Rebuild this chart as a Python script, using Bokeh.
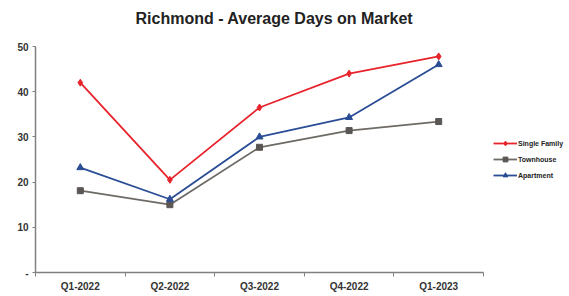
from bokeh.plotting import figure
from bokeh.models import Range1d, FixedTicker, Legend, LegendItem, Title
from bokeh.embed import file_html
from bokeh.resources import INLINE

quarters = ["Q1-2022", "Q2-2022", "Q3-2022", "Q4-2022", "Q1-2023"]
single_family = [42, 20.5, 36.5, 44, 47.8]
townhouse = [18.1, 15, 27.7, 31.4, 33.4]
apartment = [23.2, 16.2, 30, 34.3, 46]
y_ticks = [0, 10, 20, 30, 40, 50]

xs = list(range(len(quarters)))

FONT = "Liberation Sans"

p = figure(frame_width=448, frame_height=226, output_backend="svg", toolbar_location=None,
           x_range=Range1d(-0.5, len(quarters) - 0.5), y_range=Range1d(0, 50),
           min_border_left=35, min_border_right=86, min_border_top=46, min_border_bottom=24)

# spacer panel between the title and the frame
spacer = Title(text=" ", text_font_size="1px", standoff=7)
p.add_layout(spacer, "above")

p.title.text = "Richmond - Average Days on Market"
p.title.align = "left"
p.title.vertical_align = "top"
p.title.offset = 100
p.title.standoff = 16
p.title.text_font = FONT
p.title.text_font_size = "16px"
p.title.text_font_style = "bold"
p.title.text_color = "#222222"

p.outline_line_color = None
p.xgrid.visible = False
p.ygrid.visible = False

p.xaxis.ticker = FixedTicker(ticks=xs, minor_ticks=[i - 0.5 for i in range(len(quarters) + 1)])
p.xaxis.major_label_overrides = {i: q for i, q in enumerate(quarters)}
p.xaxis.minor_tick_out = 4
p.xaxis.minor_tick_in = 0
p.xaxis.minor_tick_line_color = "#808080"
p.xaxis.major_label_standoff = 2

p.yaxis.ticker = FixedTicker(ticks=y_ticks, minor_ticks=[])
p.yaxis.major_label_overrides = {0: "-"}
p.yaxis.major_tick_out = 3
p.yaxis.major_tick_in = 0
p.yaxis.major_label_standoff = 4

for ax in (p.xaxis, p.yaxis):
    ax.axis_line_color = "#808080"
    ax.axis_line_width = 1.5
    ax.major_label_text_font = FONT
    ax.major_label_text_font_size = "10px"
    ax.major_label_text_font_style = "bold"
    ax.major_label_text_color = "#333333"
p.xaxis.major_tick_line_color = None
p.yaxis.major_tick_line_color = "#808080"

red = "#e8232b"
gray = "#6e6a66"
blue = "#2a4d96"

l1 = p.line(xs, single_family, line_color=red, line_width=1.8)
m1 = p.scatter(xs, single_family, marker="diamond", size=7, color=red)
l2 = p.line(xs, townhouse, line_color=gray, line_width=1.8)
m2 = p.scatter(xs, townhouse, marker="square", size=6, color="#5a5654")
l3 = p.line(xs, apartment, line_color=blue, line_width=1.8)
m3 = p.scatter(xs, apartment, marker="triangle", size=7, color=blue)

legend = Legend(items=[
    LegendItem(label="Single Family", renderers=[l1, m1]),
    LegendItem(label="Townhouse", renderers=[l2, m2]),
    LegendItem(label="Apartment", renderers=[l3, m3]),
], location="center_left", orientation="vertical")
legend.label_text_font = FONT
legend.label_text_font_size = "7px"
legend.label_text_font_style = "bold"
legend.label_text_color = "#222222"
legend.glyph_width = 24
legend.glyph_height = 12
legend.label_height = 12
legend.label_standoff = 1
legend.spacing = 4
legend.padding = 0
legend.margin = 10
legend.border_line_color = None
legend.background_fill_alpha = 0
p.add_layout(legend, "right")

open("out.html", "w").write(file_html(p, INLINE))
